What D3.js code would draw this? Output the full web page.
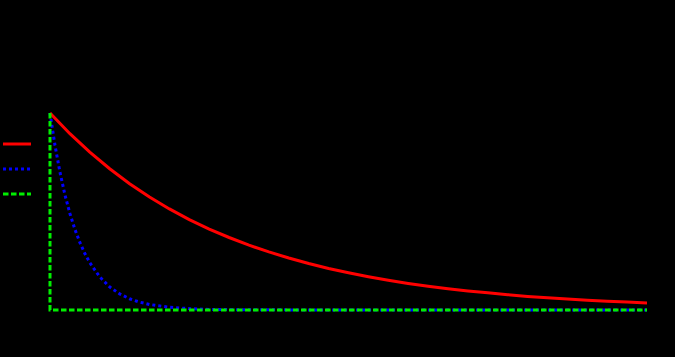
<!DOCTYPE html>
<meta charset="utf-8">
<style>
    body { margin: 0; background: #000; }
    svg { display: block; background: #000; }
    .axis text { font-family: "DejaVu Sans", sans-serif; font-size: 10px; fill: #000; }
    .axis path, .axis line { stroke: #000; }
    .legend text { font-family: "DejaVu Sans", sans-serif; font-size: 9px; fill: #000; }
</style>
<svg width="675" height="357"></svg>
<script src="https://d3js.org/d3.v7.min.js"></script>
<script>

    // values
    var slowT = [0, 1, 2, 3, 4, 5, 6, 7, 8, 9, 10, 11, 12, 13, 14, 15, 16, 17, 18, 19, 20,
                 21, 22, 23, 24, 25, 26, 27, 28, 29, 30];
    var slowV = [1.000, 0.895, 0.801, 0.717, 0.641, 0.574, 0.513, 0.459, 0.411, 0.368, 0.329,
                 0.295, 0.264, 0.236, 0.211, 0.189, 0.169, 0.151, 0.135, 0.121, 0.108,
                 0.097, 0.087, 0.078, 0.069, 0.062, 0.056, 0.050, 0.045, 0.040, 0.036];

    var fastT = [0, 0.25, 0.5, 0.75, 1, 1.25, 1.5, 1.75, 2, 2.5, 3, 3.5, 4, 4.5, 5, 6, 7, 8, 10, 15, 20, 30];
    var fastV = [1.000, 0.836, 0.700, 0.585, 0.490, 0.410, 0.343, 0.287, 0.240, 0.168, 0.117,
                 0.082, 0.057, 0.040, 0.028, 0.014, 0.007, 0.003, 0.001, 0.000, 0.000, 0.000];

    var stepT = [0, 0, 30];
    var stepV = [1, 0, 0];

    var seriesNames = ["slow", "fast", "step"];

    var svg = d3.select("svg");

    var x = d3.scaleLinear().domain([0, 30]).range([50, 647]);
    var y = d3.scaleLinear().domain([0, 1]).range([310, 113]);

    var line = d3.line()
        .x(function (d) { return x(d[0]); })
        .y(function (d) { return y(d[1]); });

    // axes (black on black, as in the picture)
    svg.append("g")
        .attr("class", "axis")
        .attr("transform", "translate(0,310)")
        .call(d3.axisBottom(x).ticks(6));

    svg.append("g")
        .attr("class", "axis")
        .attr("transform", "translate(50,0)")
        .call(d3.axisLeft(y).ticks(5).tickFormat(""));

    var styles = [
        { color: "#ff0000", width: 3, dash: null },
        { color: "#0000ff", width: 3, dash: "3,3" },
        { color: "#00ee00", width: 3, dash: "5.5,2.5" }
    ];

    var data = [
        d3.zip(slowT, slowV),
        d3.zip(fastT, fastV),
        d3.zip(stepT, stepV)
    ];

    var legend = svg.append("g").attr("class", "legend");

    seriesNames.forEach(function (name, i) {
        var ly = 144 + i * 25;
        legend.append("line")
            .attr("x1", 3).attr("x2", 31)
            .attr("y1", ly).attr("y2", ly)
            .attr("stroke", styles[i].color)
            .attr("stroke-width", styles[i].width)
            .attr("stroke-dasharray", styles[i].dash);
        legend.append("text")
            .attr("x", 3).attr("y", ly + 13)
            .text(name);
    });

    // blue under, green on top, like the picture
    [1, 0, 2].forEach(function (i) {
        svg.append("path")
            .datum(data[i])
            .attr("fill", "none")
            .attr("stroke", styles[i].color)
            .attr("stroke-width", styles[i].width)
            .attr("stroke-dasharray", styles[i].dash)
            .attr("d", line);
    });

</script>
